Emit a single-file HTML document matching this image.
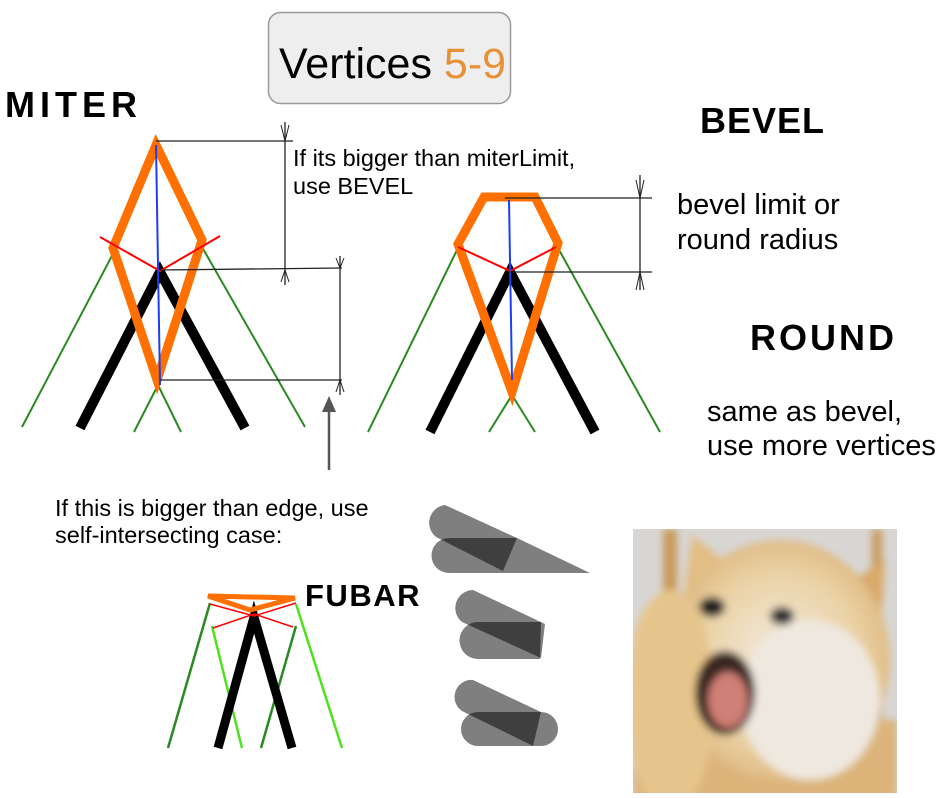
<!DOCTYPE html>
<html><head><meta charset="utf-8"><style>
body{margin:0;background:#fff;width:948px;height:798px;overflow:hidden;position:relative;font-family:"Liberation Sans",sans-serif}
svg{position:absolute;left:0;top:0}
</style></head><body>
<svg width="948" height="798" viewBox="0 0 948 798" xmlns="http://www.w3.org/2000/svg">
<defs>
<filter id="bl" x="-20%" y="-20%" width="140%" height="140%"><feGaussianBlur stdDeviation="4"/></filter>
<clipPath id="dc"><rect x="633" y="529" width="264" height="264"/></clipPath>
<radialGradient id="fur" cx="0.5" cy="0.5" r="0.6"><stop offset="0" stop-color="#f3ece2"/><stop offset="0.6" stop-color="#ead2a6"/><stop offset="1" stop-color="#d9ad6e"/></radialGradient>
</defs>
<!-- title -->
<rect x="268.5" y="12.5" width="242" height="91" rx="12" fill="#eeeeee" stroke="#999" stroke-width="1.5"/>
<text x="279" y="78" font-size="43" fill="#000">Vertices <tspan fill="#e69138">5-9</tspan></text>

<!-- labels -->
<g font-weight="bold" fill="#000" font-family="'Liberation Sans',sans-serif">
<text x="5" y="117" font-size="36" letter-spacing="5">MITER</text>
<text x="700" y="133" font-size="36" letter-spacing="1">BEVEL</text>
<text x="750" y="350" font-size="36" letter-spacing="3">ROUND</text>
<text x="305" y="606" font-size="31" letter-spacing="1.5">FUBAR</text>
</g>
<g font-size="23.5" fill="#000">
<text x="293" y="166">If its bigger than miterLimit,</text>
<text x="293" y="194">use BEVEL</text>
<text x="55" y="516">If this is bigger than edge, use</text>
<text x="55" y="543">self-intersecting case:</text>
</g>
<g font-size="29" fill="#000">
<text x="677" y="214">bevel limit or</text>
<text x="677" y="249">round radius</text>
<text x="707" y="421">same as bevel,</text>
<text x="707" y="455">use more vertices</text>
</g>

<!-- MITER -->
<g fill="none" stroke-linecap="butt">
<path d="M22,427 L115,250 M305,427 L202,247 M134,432 L158,385 L181,432" stroke="#2a8a22" stroke-width="2"/>
<path d="M80,428 L160,272 L245,428" stroke="#000" stroke-width="10"/>
<path d="M156,145 L113,248 L157,380 L202,240 Z" stroke="#ff7000" stroke-width="9" stroke-linejoin="miter"/>
<path d="M100,237 L160,271 L220,236" stroke="#f00" stroke-width="2"/>
<path d="M156,145 L160,385" stroke="#1f3ff0" stroke-width="2"/>
<path d="M156,141 L293,141 M160,270 L342,268 M160,380 L342,380 M285,122 L285,285 M340,256 L340,395" stroke="#222" stroke-width="1.3"/>
<path d="M281,125 L285,141 L289,125 M281,282 L285,270 L289,282 M336,258 L340,268 L344,258 M336,392 L340,380 L344,392" stroke="#222" stroke-width="1"/>
<path d="M329,470 L329,410" stroke="#555" stroke-width="2.5"/>
</g>
<path d="M322,412 L329,396 L336,412 Z" fill="#555"/>

<!-- BEVEL -->
<g fill="none">
<path d="M368,432 L457,250 M660,432 L558,248 M489,432 L512,395 L535,432" stroke="#2a8a22" stroke-width="2"/>
<path d="M430,432 L510,272 L595,432" stroke="#000" stroke-width="10"/>
<path d="M484,197 L535,197 L558,243 L512,392 L458,244 Z" stroke="#ff7000" stroke-width="9" stroke-linejoin="miter"/>
<path d="M458,247 L510,271 L556,247" stroke="#f00" stroke-width="2"/>
<path d="M509,200 L512,380" stroke="#1f3ff0" stroke-width="2"/>
<path d="M505,198 L652,198 M510,272 L652,272 M640,175 L640,290" stroke="#222" stroke-width="1.3"/>
<path d="M636,180 L640,198 L644,180 M636,290 L640,272 L644,290" stroke="#222" stroke-width="1"/>
</g>

<!-- FUBAR -->
<g fill="none">
<path d="M168,748 L210,603 M261,748 L296,626" stroke="#2a8a22" stroke-width="2.5"/>
<path d="M212,626 L242,748 M296,604 L342,748" stroke="#4fe020" stroke-width="2.5"/>
<path d="M218,748 L254,617 L292,748" stroke="#000" stroke-width="9"/>
<path d="M208,596 L295,598 L250,610 Z" stroke="#ff7000" stroke-width="5" stroke-linejoin="miter"/>
<path d="M210,604 L254,616 L296,603 M213,628 L254,614 L293,627" stroke="#f00" stroke-width="1.5"/>
</g>

<!-- gray capsules -->
<g fill="#000" fill-opacity="0.5">
<path d="M445,505 L517,538 L503,571 L436,537 A18,18 0 0 1 445,505Z"/>
<path d="M449,538 L517,538 L590,573 L449,573 A17.5,17.5 0 0 1 449,538Z"/>
<path d="M473,590 L545,624 L541,658 L462,622 A18,18 0 0 1 473,590Z"/>
<path d="M478,622 L541,622 L540,659 L478,659 A18.5,18.5 0 0 1 478,622Z"/>
<path d="M473,680 L541,712 L533,746 L462,711 A17,17 0 0 1 473,680Z"/>
<path d="M478,712 L541,712 A17,17 0 0 1 541,746 L478,746 A17,17 0 0 1 478,712Z"/>
</g>

<!-- dog -->
<g clip-path="url(#dc)">
<rect x="633" y="529" width="264" height="264" fill="#d8d6d4"/>
<g filter="url(#bl)">
<rect x="663" y="529" width="14" height="200" fill="#c99a5a"/>
<rect x="872" y="529" width="10" height="200" fill="#c99a5a"/>
<rect x="633" y="720" width="264" height="80" fill="#dcb47a"/>
<path d="M683,600 L692,535 L730,565 Z" fill="#e2bd84"/>
<path d="M830,595 L885,560 L880,640 Z" fill="#d9a967"/>
<ellipse cx="780" cy="660" rx="110" ry="120" fill="url(#fur)"/>
<ellipse cx="670" cy="700" rx="45" ry="110" fill="#e6c58c"/>
<ellipse cx="810" cy="700" rx="70" ry="80" fill="#efe8df"/>
<ellipse cx="712" cy="607" rx="13" ry="10" fill="#222"/>
<ellipse cx="782" cy="616" rx="12" ry="9" fill="#333"/>
<ellipse cx="725" cy="693" rx="30" ry="42" fill="#3a2520"/>
<ellipse cx="728" cy="700" rx="20" ry="28" fill="#cf7f74"/>
</g>
</g>
</svg>
</body></html>
